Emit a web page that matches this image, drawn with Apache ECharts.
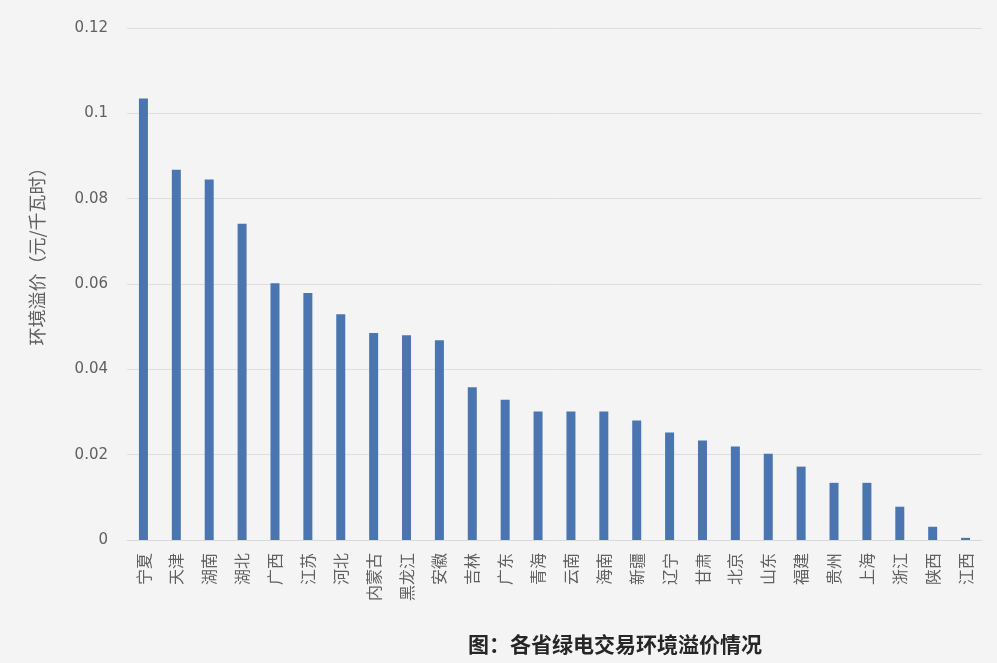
<!DOCTYPE html>
<html>
<head>
<meta charset="utf-8">
<script src="https://cdn.jsdelivr.net/npm/echarts@6/dist/echarts.min.js"></script>
<style>
  html, body { margin: 0; padding: 0; background: #f4f4f4; }
  #chart { width: 997px; height: 663px; }
</style>
</head>
<body>
<div id="chart"></div>
<script>
// 各省名称
const provinces = ['宁夏', '天津', '湖南', '湖北', '广西', '江苏', '河北', '内蒙古', '黑龙江', '安徽',
    '吉林', '广东', '青海', '云南', '海南', '新疆', '辽宁', '甘肃', '北京', '山东',
    '福建', '贵州', '上海', '浙江', '陕西', '江西'];

// 环境溢价（元/千瓦时）
const premium = [0.1035, 0.0868, 0.0845, 0.0741, 0.0602, 0.0579, 0.0529, 0.0485, 0.048, 0.0468,
    0.0358, 0.0329, 0.0301, 0.0301, 0.0301, 0.028, 0.0252, 0.0233, 0.0219, 0.0202,
    0.0172, 0.0134, 0.0134, 0.0078, 0.0031, 0.0005];

const yMin = 0;
const yMax = 0.12;
const yStep = 0.02;

const yName = '环境溢价（元/千瓦时）';
const chartTitle = '图：各省绿电交易环境溢价情况';

const chart = echarts.init(document.getElementById('chart'));

const textColor = '#606060';
const cjkFont = '"Noto Sans CJK SC", sans-serif';

chart.setOption({
    backgroundColor: '#f4f4f4',
    animation: false,
    title: {
        text: chartTitle,
        left: 463,
        top: 629,
        textStyle: {
            fontSize: 21,
            fontWeight: 'bold',
            color: '#262626',
            fontFamily: cjkFont
        }
    },
    // y轴名称不在绘图区正中，单独放
    graphic: [{
        type: 'text',
        x: 37,
        y: 252,
        rotation: Math.PI / 2,
        style: {
            text: yName,
            fontSize: 18,
            fill: textColor,
            fontFamily: cjkFont,
            align: 'center',
            verticalAlign: 'middle'
        }
    }],
    grid: {
        left: 127,
        right: 15,
        top: 28,
        bottom: 123
    },
    xAxis: {
        type: 'category',
        data: provinces,
        axisLine: { lineStyle: { color: '#d9d9d9' } },
        axisTick: { show: false },
        axisLabel: {
            rotate: 90,
            interval: 0,
            margin: 13,
            fontSize: 16,
            color: textColor,
            fontFamily: cjkFont
        }
    },
    yAxis: {
        type: 'value',
        min: yMin,
        max: yMax,
        interval: yStep,
        axisLine: { show: false },
        axisTick: { show: false },
        axisLabel: {
            margin: 19,
            fontSize: 15,
            color: textColor,
            fontFamily: '"DejaVu Sans", sans-serif'
        },
        splitLine: { lineStyle: { color: '#dedede' } }
    },
    series: [{
        type: 'bar',
        data: premium,
        barWidth: 9,
        itemStyle: { color: '#4a75b0' }
    }]
});
</script>
</body>
</html>
